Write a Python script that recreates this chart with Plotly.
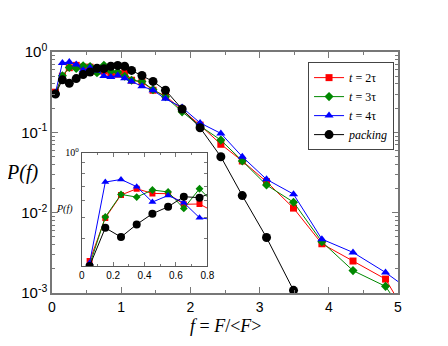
"""Force distribution P(f) with inset, log-linear axes."""

import numpy as np
import plotly.graph_objects as go

f_vals = [0.05, 0.15, 0.25, 0.35, 0.45, 0.55, 0.65, 0.75, 0.85, 0.95, 1.05, 1.15,
          1.3, 1.46, 1.64, 1.88, 2.14, 2.44, 2.75, 3.1, 3.49, 3.9, 4.35, 4.82, 5.3]

p_t2 = [0.316, 0.50, 0.638, 0.682, 0.649, 0.647, 0.578, 0.58, 0.53, 0.53, 0.55, 0.445,
        0.425, 0.334, 0.284, 0.192, 0.123, 0.071, 0.044, 0.0243, 0.0114, 0.0041,
        0.0025, 0.00149, 0.0003]
p_t3 = [0.303, 0.505, 0.642, 0.624, 0.673, 0.659, 0.553, 0.682, 0.575, 0.565, 0.50, 0.445,
        0.43, 0.34, 0.277, 0.18, 0.12, 0.080, 0.044, 0.0221, 0.0135, 0.00434,
        0.0019, 0.00121, 0.0003]
p_t4 = [0.31, 0.732, 0.753, 0.697, 0.592, 0.635, 0.588, 0.501, 0.49, 0.51, 0.47, 0.43,
        0.375, 0.334, 0.261, 0.204, 0.131, 0.097, 0.0497, 0.026, 0.017, 0.00468,
        0.0032, 0.0018, 0.0009]
p_pack = [0.30, 0.45, 0.408, 0.467, 0.523, 0.563, 0.627, 0.62, 0.665, 0.68, 0.665, 0.59,
          0.51, 0.43, 0.334, 0.195, 0.114, 0.0497, 0.0163, 0.0049, 0.00108]

series = [
    ("<i>t</i> = 2τ", p_t2, "#ff0000", "square", 7),
    ("<i>t</i> = 3τ", p_t3, "#008800", "diamond", 7),
    ("<i>t</i> = 4τ", p_t4, "#0000ff", "triangle-up", 8),
    ("<i>packing</i>", p_pack, "#000000", "circle", 9),
]

AXIS_COLOR = "#777777"
SERIF = "Liberation Serif"
SANS = "Liberation Sans"

fig = go.Figure()

for name, vals, color, symbol, size in series:
    xs = f_vals[:len(vals)]
    fig.add_trace(go.Scatter(
        x=xs, y=vals, mode="lines+markers", name=name,
        line=dict(color=color, width=1),
        marker=dict(color=color, symbol=symbol, size=size),
        xaxis="x", yaxis="y",
    ))
    # inset copy
    fig.add_trace(go.Scatter(
        x=xs, y=vals, mode="lines+markers", showlegend=False,
        line=dict(color=color, width=1),
        marker=dict(color=color, symbol=symbol, size=size - 1),
        xaxis="x2", yaxis="y2", cliponaxis=True,
    ))

main_minor_y = [m * 10.0 ** e for e in (-3, -2, -1) for m in range(2, 10)]
inset_minor_y = [0.4, 0.5, 0.6, 0.7, 0.8, 0.9]

# page body has an 8px margin, so shift margins to keep the plot box in place
fig.update_layout(
    width=448, height=346,
    margin=dict(l=44, r=58, t=44, b=61, autoexpand=False),
    paper_bgcolor="white", plot_bgcolor="white",
    showlegend=True,
    legend=dict(
        x=0.74, y=0.958, xanchor="left", yanchor="top",
        bordercolor="#444444", borderwidth=1,
        font=dict(family=SERIF, size=12, color="black"),
        itemwidth=30, tracegroupgap=0,
        bgcolor="white",
    ),
    xaxis=dict(
        domain=[0, 1], range=[0, 5],
        tickvals=[0, 1, 2, 3, 4, 5],
        ticks="inside", ticklen=6, tickcolor=AXIS_COLOR,
        minor=dict(tickvals=[0.5, 1.5, 2.5, 3.5, 4.5], ticks="inside",
                   ticklen=3, tickcolor=AXIS_COLOR),
        showline=True, linecolor=AXIS_COLOR, linewidth=1.5, mirror="allticks",
        showgrid=False, zeroline=False,
        tickfont=dict(family=SANS, size=14, color="black"),
    ),
    yaxis=dict(
        domain=[0, 1], type="log", range=[-3, 0],
        tickvals=[0.001, 0.01, 0.1, 1],
        ticktext=["10<sup>-3</sup>", "10<sup>-2</sup>", "10<sup>-1</sup>", "10<sup>0</sup>"],
        ticks="inside", ticklen=6, tickcolor=AXIS_COLOR,
        minor=dict(tickvals=main_minor_y, ticks="inside", ticklen=3,
                   tickcolor=AXIS_COLOR),
        showline=True, linecolor=AXIS_COLOR, linewidth=1.5, mirror="allticks",
        showgrid=False, zeroline=False,
        tickfont=dict(family=SANS, size=15, color="black"),
    ),
    xaxis2=dict(
        domain=[0.086, 0.449], anchor="y2", range=[0, 0.8],
        tickvals=[0, 0.2, 0.4, 0.6, 0.8],
        ticktext=["0", "0.2", "0.4", "0.6", "0.8"],
        ticks="inside", ticklen=4, tickcolor=AXIS_COLOR,
        minor=dict(tickvals=[0.1, 0.3, 0.5, 0.7], ticks="inside",
                   ticklen=2, tickcolor=AXIS_COLOR),
        showline=True, linecolor="#555555", linewidth=1, mirror="allticks",
        showgrid=False, zeroline=False,
        tickfont=dict(family=SANS, size=10, color="black"),
    ),
    yaxis2=dict(
        domain=[0.112, 0.582], anchor="x2", type="log",
        range=[np.log10(0.3), 0],
        tickvals=[1], ticktext=["10<sup>0</sup>"],
        ticks="inside", ticklen=4, tickcolor=AXIS_COLOR,
        minor=dict(tickvals=inset_minor_y, ticks="inside", ticklen=3,
                   tickcolor=AXIS_COLOR),
        showline=True, linecolor="#555555", linewidth=1, mirror="allticks",
        showgrid=False, zeroline=False,
        tickfont=dict(family=SERIF, size=10, color="black"),
    ),
    annotations=[
        dict(text="<i>P(f)</i>", xref="paper", yref="paper",
             x=-0.035, y=0.5, xanchor="right", yanchor="middle", showarrow=False,
             font=dict(family=SERIF, size=20, color="black")),
        dict(text="<i>f</i> = <i>F</i>/&lt;<i>F</i>&gt;", xref="paper", yref="paper",
             x=0.5, y=-0.135, xanchor="center", yanchor="middle", showarrow=False,
             font=dict(family=SERIF, size=18, color="black")),
        dict(text="<i>P(f)</i>", xref="paper", yref="paper",
             x=0.066, y=0.349, xanchor="right", yanchor="middle", showarrow=False,
             font=dict(family=SERIF, size=10, color="black")),
    ],
)

fig.write_html("out.html")
